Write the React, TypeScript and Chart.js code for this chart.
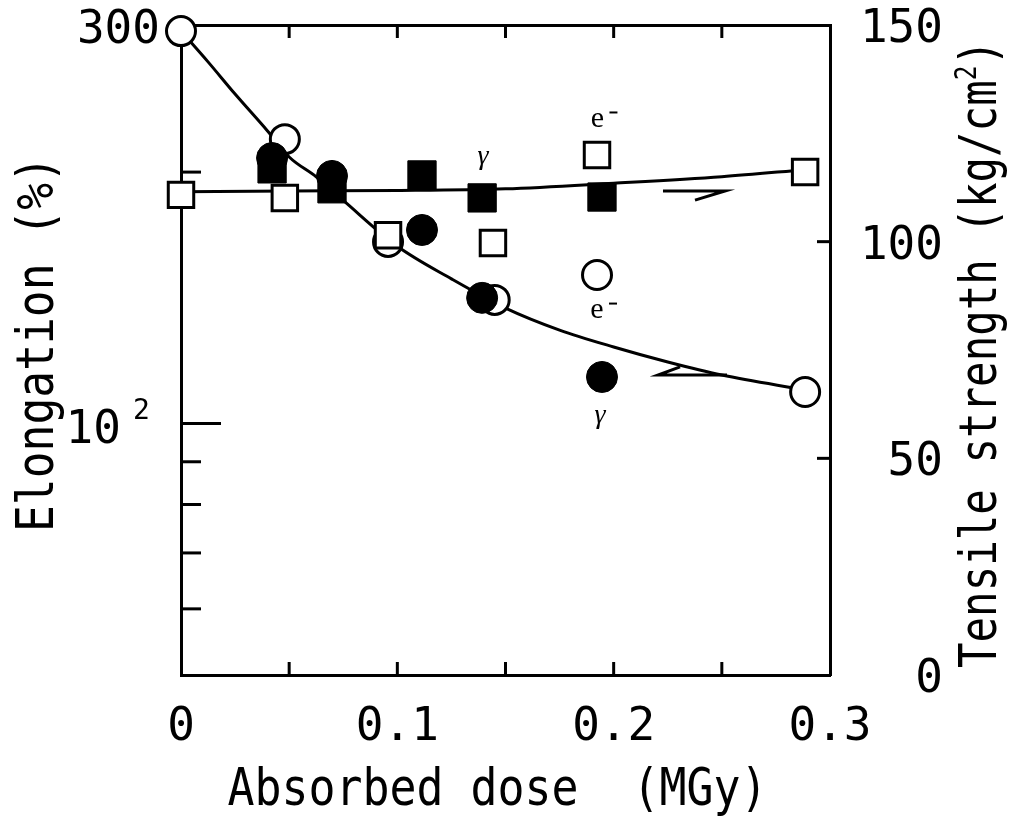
import React, { useEffect, useRef } from 'react';
import { Chart, registerables } from 'chart.js';

Chart.register(...registerables);

// ---- Data (absorbed dose in MGy) ----
// Elongation (%), e- irradiation (open circles)
const openCircleDose = [0, 0.048, 0.0957, 0.145, 0.1923, 0.2885];
const openCircleElong = [295, 219, 165, 140.6, 150.6, 109.1];
// Elongation (%), gamma irradiation (filled circles)
const filledCircleDose = [0.0421, 0.0698, 0.1114, 0.1392, 0.1946];
const filledCircleElong = [207.9, 197.9, 170.5, 141.4, 113.7];
// Tensile strength (kg/cm2), e- irradiation (open squares)
const openSquareDose = [0, 0.048, 0.0957, 0.1442, 0.1923, 0.2885];
const openSquareTensile = [110.8, 110.1, 101.5, 99.7, 120, 116.1];
// Tensile strength (kg/cm2), gamma irradiation (filled squares)
const filledSquareDose = [0.0421, 0.0698, 0.1114, 0.1392, 0.1946];
const filledSquareTensile = [116.8, 112.2, 115.4, 110.1, 110.3];
// Fitted curves
const elongCurveDose = [0, 0.0125, 0.025, 0.04, 0.05, 0.0625, 0.075, 0.1, 0.125, 0.15, 0.175, 0.2, 0.225, 0.25, 0.2885];
const elongCurveValue = [295, 271, 248, 224, 208.5, 197.4, 185, 163, 149, 137.5, 129.4, 123.5, 118.5, 114.3, 109.7];
const tensileCurveDose = [0, 0.05, 0.1, 0.15, 0.2, 0.25, 0.2885];
const tensileCurveValue = [111.5, 111.7, 111.8, 112.2, 113.5, 115.0, 116.6];
// Axis-pointing arrows
const arrowTensileDose = [0.2228, 0.2515, 0.2376];
const arrowTensileValue = [111.7, 111.7, 109.6];
const arrowElongDose = [0.2307, 0.2205, 0.2524];
const arrowElongValue = [116.9, 114.3, 114.3];
// Point annotations (placed on tensile scale)
const labelText = ['γ', 'e⁻', 'e⁻', 'γ'];
const labelDose = [0.1396, 0.1925, 0.1923, 0.1937];
const labelTensile = [119.1, 128.2, 84.1, 59.3];

// ---- Ticks ----
const xTickMarks = [0.05, 0.1, 0.15, 0.2, 0.25];
const xTickValues = [0, 0.1, 0.2, 0.3];
const xTickText = ['0', '0.1', '0.2', '0.3'];
const leftLongTicks = [100];
const leftShortTicks = [200, 90, 80, 70, 60];
const rightTickMarks = [50, 100];
const rightTickValues = [0, 50, 100, 150];
const rightTickText = ['0', '50', '100', '150'];

const MONO = '"DejaVu Sans Mono", monospace';
const SERIF = '"Liberation Serif", serif';

const pts = (xs: number[], ys: number[]) => xs.map((x, i) => ({ x, y: ys[i] }));

const overlay = {
  id: 'overlay',
  afterDraw(chart: any) {
    const ctx: CanvasRenderingContext2D = chart.ctx;
    const { x, yL, yR } = chart.scales;
    const a = chart.chartArea;
    ctx.save();
    ctx.strokeStyle = '#000';
    ctx.fillStyle = '#000';
    ctx.lineWidth = 3;
    const line = (x1: number, y1: number, x2: number, y2: number) => {
      ctx.beginPath();
      ctx.moveTo(x1, y1);
      ctx.lineTo(x2, y2);
      ctx.stroke();
    };
    // inward tick marks
    xTickMarks.forEach((v) => {
      const px = x.getPixelForValue(v);
      line(px, a.bottom, px, a.bottom - 13);
      line(px, a.top, px, a.top + 13);
    });
    leftLongTicks.forEach((v) => {
      const py = yL.getPixelForValue(v);
      line(a.left, py, a.left + 40, py);
    });
    leftShortTicks.forEach((v) => {
      const py = yL.getPixelForValue(v);
      line(a.left, py, a.left + 20, py);
    });
    rightTickMarks.forEach((v) => {
      const py = yR.getPixelForValue(v);
      line(a.right, py, a.right - 13, py);
    });

    // tick labels
    ctx.font = `46px ${MONO}`;
    ctx.textBaseline = 'alphabetic';
    ctx.textAlign = 'center';
    xTickValues.forEach((v, i) => {
      ctx.fillText(xTickText[i], x.getPixelForValue(v), a.bottom + 65);
    });
    ctx.textAlign = 'right';
    ctx.fillText('300', a.left - 21, yL.getPixelForValue(300) + 18);
    const p100 = yL.getPixelForValue(100);
    ctx.fillText('10', a.left - 60, p100 + 19);
    ctx.font = `28px ${MONO}`;
    ctx.textAlign = 'left';
    ctx.fillText('2', a.left - 48, p100 - 5);
    ctx.font = `46px ${MONO}`;
    ctx.textAlign = 'right';
    rightTickValues.forEach((v, i) => {
      ctx.fillText(rightTickText[i], a.right + 113, yR.getPixelForValue(v) + 17);
    });

    // axis titles (narrow plotter-like lettering)
    const fitted = (parts: { t: string; size: number; dy: number }[], cx: number, cy: number, target: number, rot: number) => {
      ctx.save();
      ctx.translate(cx, cy);
      ctx.rotate(rot);
      let total = 0;
      const widths = parts.map((p) => {
        ctx.font = `${p.size}px ${MONO}`;
        const w = ctx.measureText(p.t).width;
        total += w;
        return w;
      });
      const sx = target / total;
      ctx.scale(sx, 1);
      ctx.textAlign = 'left';
      ctx.textBaseline = 'alphabetic';
      let pos = -total / 2;
      parts.forEach((p, i) => {
        ctx.font = `${p.size}px ${MONO}`;
        ctx.fillText(p.t, pos, p.dy);
        pos += widths[i];
      });
      ctx.restore();
    };
    fitted([{ t: 'Absorbed dose  (MGy)', size: 52, dy: 0 }], (a.left + a.right) / 2 - 8, a.bottom + 130, 540, 0);
    fitted([{ t: 'Elongation (%)', size: 52, dy: 0 }], 53, (a.top + a.bottom) / 2 - 6, 376, -Math.PI / 2);
    fitted(
      [
        { t: 'Tensile strength (kg/cm', size: 52, dy: 0 },
        { t: '2', size: 30, dy: -20 },
        { t: ')', size: 52, dy: 0 },
      ],
      996,
      (a.top + a.bottom) / 2 + 4,
      628,
      -Math.PI / 2
    );

    // point annotations
    labelText.forEach((t, i) => {
      const cx = x.getPixelForValue(labelDose[i]);
      const cy = yR.getPixelForValue(labelTensile[i]);
      ctx.textAlign = 'center';
      if (t === 'γ') {
        ctx.font = `italic 28px ${SERIF}`;
        ctx.fillText('γ', cx, cy + 5);
      } else {
        ctx.font = `30px ${SERIF}`;
        ctx.fillText('e', cx, cy + 7.5);
        ctx.lineWidth = 2;
        line(cx + 12, cy - 7, cx + 20, cy - 7);
        ctx.lineWidth = 3;
      }
    });
    ctx.restore();
  },
};

export default function App() {
  const ref = useRef<HTMLCanvasElement>(null);
  useEffect(() => {
    const axisBase = {
      ticks: { display: false },
      grid: { display: false, drawTicks: false },
      border: { display: true, color: '#000', width: 3 },
      z: 1,
    };
    const chart = new Chart(ref.current as HTMLCanvasElement, {
      type: 'scatter',
      data: {
        datasets: [
          {
            label: 'Elongation, γ',
            data: pts(filledCircleDose, filledCircleElong),
            xAxisID: 'x',
            yAxisID: 'yL',
            pointStyle: 'circle',
            pointRadius: 15.5,
            backgroundColor: '#000',
            borderColor: '#000',
            borderWidth: 1,
            clip: false,
          },
          {
            label: 'Tensile strength, γ',
            data: pts(filledSquareDose, filledSquareTensile),
            xAxisID: 'x',
            yAxisID: 'yR',
            pointStyle: 'rect',
            pointRadius: 20,
            backgroundColor: '#000',
            borderColor: '#000',
            borderWidth: 1,
            clip: false,
          },
          {
            label: 'Tensile strength, e-',
            data: pts(openSquareDose, openSquareTensile),
            xAxisID: 'x',
            yAxisID: 'yR',
            pointStyle: 'rect',
            pointRadius: 18,
            backgroundColor: '#fff',
            borderColor: '#000',
            borderWidth: 3,
            clip: false,
          },
          {
            label: 'Elongation, e-',
            data: pts(openCircleDose, openCircleElong),
            xAxisID: 'x',
            yAxisID: 'yL',
            pointStyle: 'circle',
            pointRadius: 14.5,
            backgroundColor: '#fff',
            borderColor: '#000',
            borderWidth: 3,
            clip: false,
          },
          {
            label: 'Elongation fit',
            data: pts(elongCurveDose, elongCurveValue),
            xAxisID: 'x',
            yAxisID: 'yL',
            showLine: true,
            cubicInterpolationMode: 'monotone',
            pointRadius: 0,
            borderColor: '#000',
            borderWidth: 3,
            clip: false,
          },
          {
            label: 'Tensile fit',
            data: pts(tensileCurveDose, tensileCurveValue),
            xAxisID: 'x',
            yAxisID: 'yR',
            showLine: true,
            cubicInterpolationMode: 'monotone',
            pointRadius: 0,
            borderColor: '#000',
            borderWidth: 3,
            clip: false,
          },
          {
            label: 'arrow tensile',
            data: pts(arrowTensileDose, arrowTensileValue),
            xAxisID: 'x',
            yAxisID: 'yR',
            showLine: true,
            tension: 0,
            pointRadius: 0,
            borderColor: '#000',
            borderWidth: 3,
          },
          {
            label: 'arrow elongation',
            data: pts(arrowElongDose, arrowElongValue),
            xAxisID: 'x',
            yAxisID: 'yL',
            showLine: true,
            tension: 0,
            pointRadius: 0,
            borderColor: '#000',
            borderWidth: 3,
          },
        ] as any,
      },
      options: {
        responsive: false,
        animation: false,
        devicePixelRatio: 1,
        layout: { padding: { left: 181, right: 181, top: 25, bottom: 145 } },
        plugins: { legend: { display: false }, tooltip: { enabled: false }, title: { display: false } },
        scales: {
          x: { type: 'linear', position: 'bottom', min: 0, max: 0.3, ...axisBase },
          xTop: { type: 'linear', position: 'top', min: 0, max: 0.3, ...axisBase },
          yL: { type: 'logarithmic', position: 'left', min: 50, max: 300, ...axisBase },
          yR: { type: 'linear', position: 'right', min: 0, max: 150, ...axisBase },
        } as any,
      },
      plugins: [overlay],
    });
    return () => chart.destroy();
  }, []);
  return (
    <div style={{ position: 'absolute', left: 0, top: 0, width: 1011, height: 820, background: '#fff' }}>
      <canvas ref={ref} width={1011} height={820} style={{ display: 'block' }} />
    </div>
  );
}
